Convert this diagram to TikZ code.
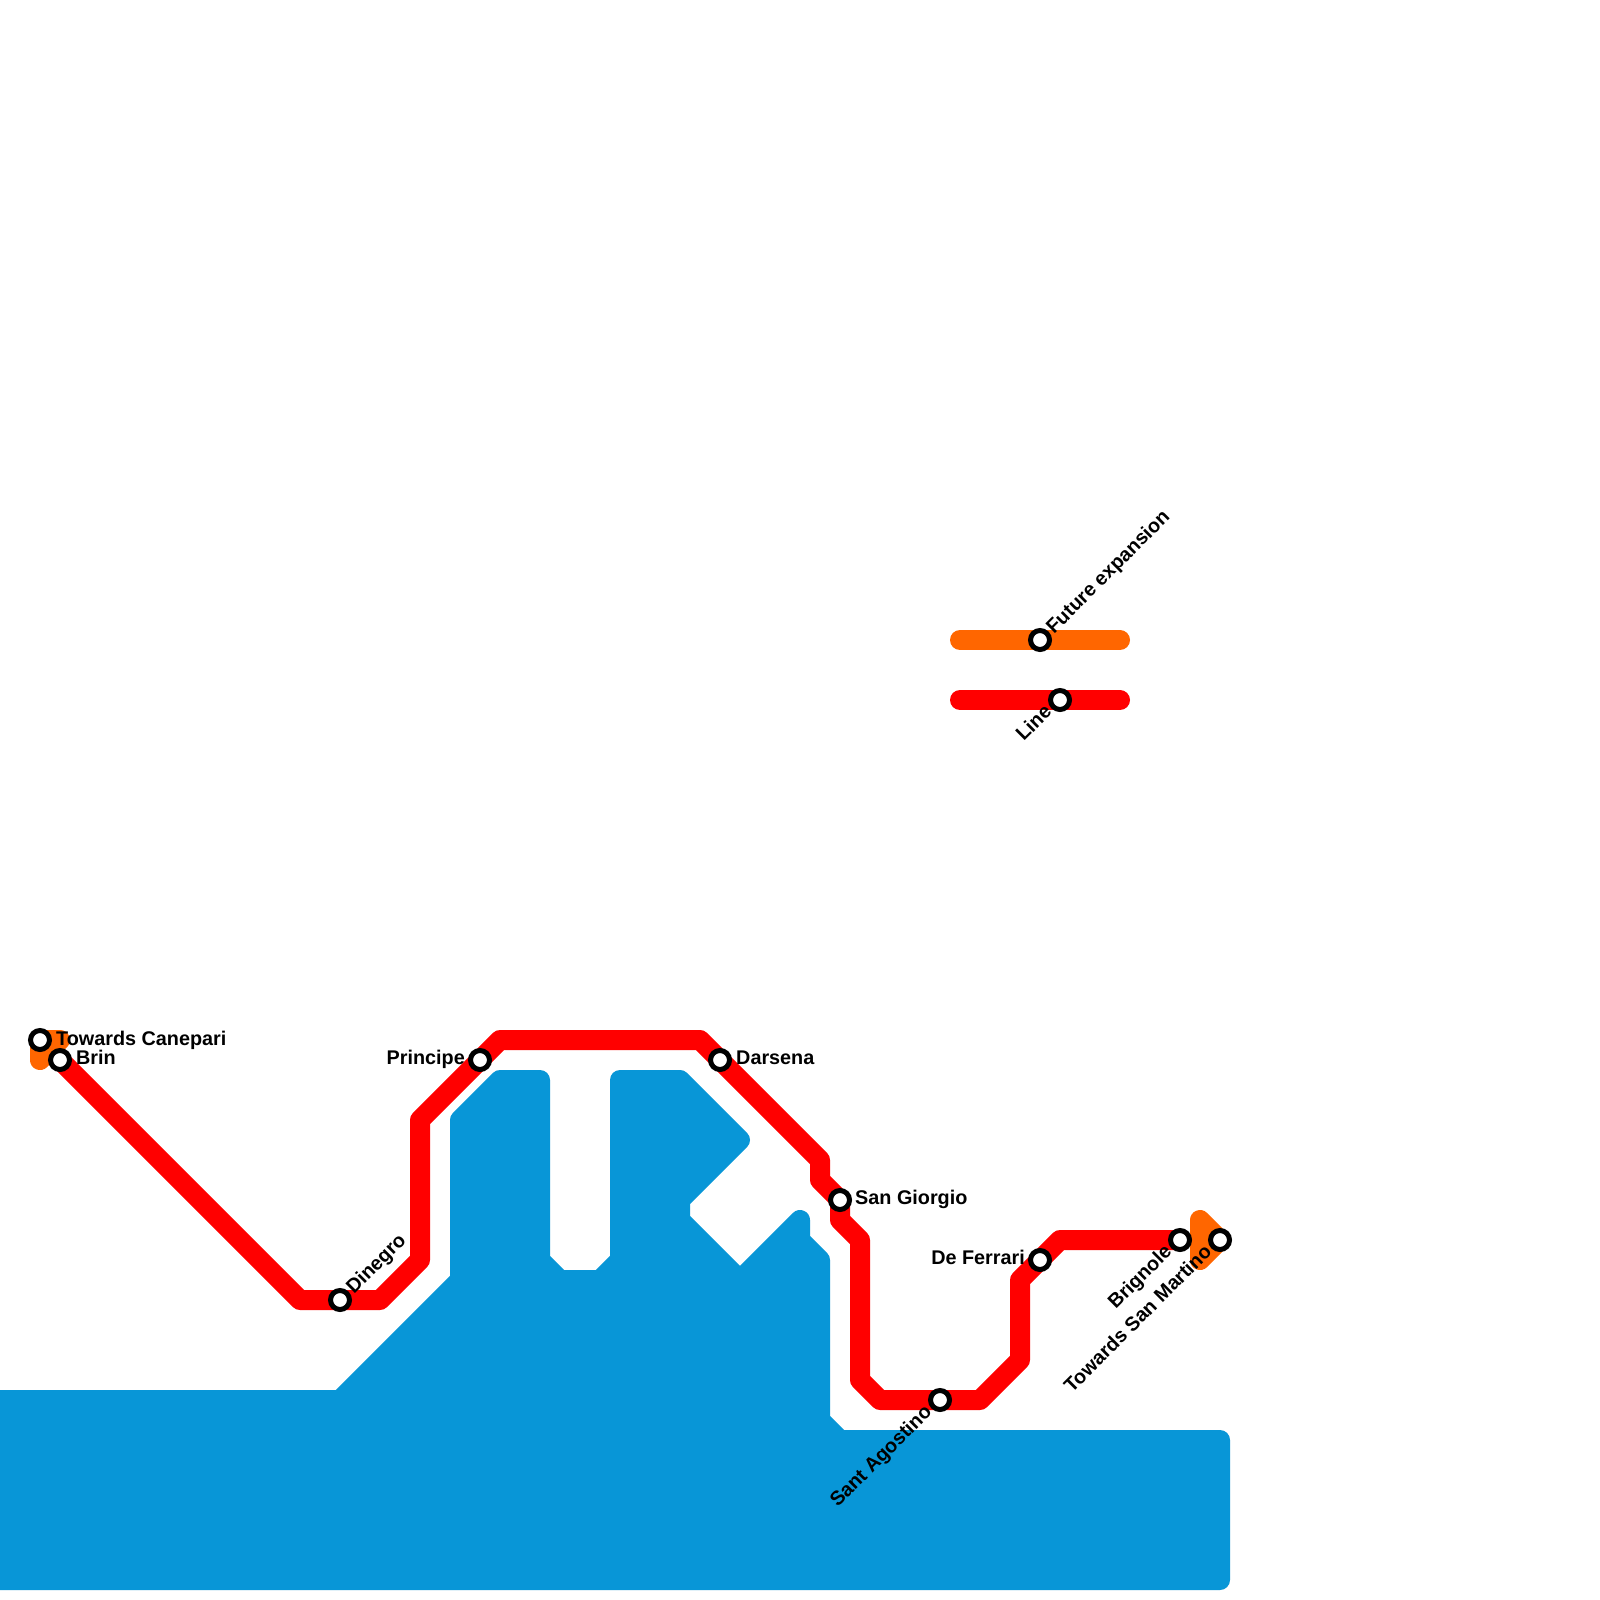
\documentclass[tikz,border=0pt]{standalone}
\usepackage{fontspec}
\setmainfont{Liberation Sans}
\definecolor{water}{HTML}{0896D7}
\definecolor{lineorange}{HTML}{FF6600}
\definecolor{linered}{HTML}{FF0000}
\tikzset{
  waterarea/.style={draw=water,fill=water,line width=20pt,line join=round},
  metro/.style={line width=20pt,line join=round,line cap=round},
  stationdot/.style={circle,draw=black,fill=white,line width=5pt,inner sep=0pt,outer sep=0pt,minimum size=19pt},
  lbl/.style={font=\bfseries\fontsize{19.8pt}{20pt}\selectfont,text=black,inner sep=0pt},
  lblr/.style={lbl,anchor=mid west},
  lbll/.style={lbl,anchor=mid east},
  lblup/.style={lbl,anchor=mid west,rotate=45},
  lbldown/.style={lbl,anchor=mid east,rotate=45}
}
\begin{document}
\begin{tikzpicture}[x=1pt,y=-1pt]
\useasboundingbox (0,0) rectangle (1600,1600);
\clip (0,0) rectangle (1600,1600);
\path[fill=white] (0,0) rectangle (1600,1600);
\coordinate (canepari) at (40,1040);
\coordinate (brinp) at (60,1060);
\coordinate (dinegrop) at (340,1300);
\coordinate (principep) at (480,1060);
\coordinate (darsenap) at (720,1060);
\coordinate (giorgiop) at (840,1200);
\coordinate (agostinop) at (940,1400);
\coordinate (ferrarip) at (1040,1260);
\coordinate (brignolep) at (1180,1240);
\coordinate (martinop) at (1220,1240);
\coordinate (futurep) at (1040,640);
\coordinate (linep) at (1060,700);
% water
\draw[waterarea] (-40,1400) -- (340,1400) -- (460,1280) -- (460,1120) -- (500,1080) -- (540,1080) -- (540,1260) -- (560,1280) -- (600,1280) -- (620,1260) -- (620,1080) -- (680,1080) -- (740,1140) -- (680,1200) -- (680,1220) -- (740,1280) -- (800,1220) -- (800,1240) -- (820,1260) -- (820,1420) -- (840,1440) -- (1220,1440) -- (1220,1580) -- (-40,1580) -- cycle;
% orange line
\draw[metro,lineorange,fill=lineorange] (40,1060) -- (canepari) -- (60,1040) -- cycle;
\draw[metro,lineorange,fill=lineorange] (1200,1220) -- (martinop) -- (1200,1260) -- cycle;
\draw[metro,lineorange] (960,640) -- (futurep) -- (1120,640);
% red line
\draw[metro,linered] (brinp) -- (300,1300) -- (dinegrop) -- (380,1300) -- (420,1260) -- (420,1120) -- (principep) -- (500,1040) -- (700,1040) -- (darsenap) -- (820,1160) -- (820,1180) -- (giorgiop) -- (840,1220) -- (860,1240) -- (860,1380) -- (880,1400) -- (agostinop) -- (980,1400) -- (1020,1360) -- (1020,1280) -- (ferrarip) -- (1060,1240) -- (brignolep);
\draw[metro,linered] (960,700) -- (linep) -- (1120,700);
% stations
\node[stationdot] (s1) at (canepari) {};
\node[stationdot] (s2) at (brinp) {};
\node[stationdot] (s3) at (dinegrop) {};
\node[stationdot] (s4) at (principep) {};
\node[stationdot] (s5) at (darsenap) {};
\node[stationdot] (s6) at (giorgiop) {};
\node[stationdot] (s7) at (agostinop) {};
\node[stationdot] (s8) at (ferrarip) {};
\node[stationdot] (s9) at (brignolep) {};
\node[stationdot] (s10) at (martinop) {};
\node[stationdot] (s11) at (futurep) {};
\node[stationdot] (s12) at (linep) {};
% labels
\node[lblr] (t1) at (56,1043) {Towards Canepari};
\node[lblr] (t2) at (76,1062) {Brin};
\node[lblup] (t3) at (352,1293) {Dinegro};
\node[lbll] (t4) at (465,1062) {Principe};
\node[lblr] (t5) at (736,1062) {Darsena};
\node[lblr] (t6) at (855,1202) {San Giorgio};
\node[lbldown] (t7) at (931,1411) {Sant Agostino};
\node[lbll] (t8) at (1025,1262) {De Ferrari};
\node[lbldown] (t9) at (1171,1251) {Brignole};
\node[lbldown] (t10) at (1211,1251) {Towards San Martino};
\node[lblup] (t11) at (1052,633) {Future expansion};
\node[lbldown] (t12) at (1051,711) {Line};
\end{tikzpicture}
\end{document}
